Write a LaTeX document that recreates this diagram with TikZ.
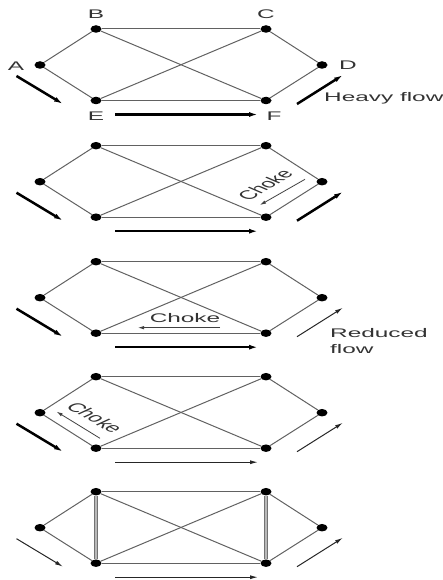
\documentclass[tikz,border=0pt]{standalone}
\usepackage{fontspec}
\setmainfont{Liberation Sans}
\usetikzlibrary{shapes.geometric, arrows.meta}

\tikzset{
  vertex/.style={ellipse, fill=black, draw=none, inner sep=0pt,
                 minimum width=11pt, minimum height=7.5pt},
  edge/.style={draw=black!62, line width=1pt},
  link/.style={draw=black!55, double=black!28, double distance=1.8pt, line width=0.7pt},
  heavy/.style={draw=black, line width=2.5pt, -{Latex[length=9pt,width=5pt]}},
  light/.style={draw=black!85, line width=1pt, -{Latex[length=8pt,width=4pt]}},
  chokearrow/.style={draw=black!75, line width=0.8pt, -{Latex[length=6pt,width=3.5pt]}},
  lbl/.style={text=black!80, font=\fontsize{12.5}{16}\selectfont, inner sep=0pt},
}
% letters drawn wide, as in the source figure
\newcommand{\wide}[1]{\scalebox{1.95}[1]{#1}}

\begin{document}
\begin{tikzpicture}[x=1pt, y=-1pt]
  \useasboundingbox (0,0) rectangle (442,580);

  % five copies of the network, one below the other
  \foreach \p/\o in {1/0, 2/116.7, 3/232.7, 4/347.7, 5/462.7} {
    \node[vertex] (A\p) at (40, 65+\o) {};
    \node[vertex] (B\p) at (96, 29+\o) {};
    \node[vertex] (C\p) at (266, 29+\o) {};
    \node[vertex] (D\p) at (322, 65+\o) {};
    \node[vertex] (E\p) at (96, 100.5+\o) {};
    \node[vertex] (F\p) at (266, 100.5+\o) {};
    \draw[edge] (A\p) -- (B\p);
    \draw[edge] (A\p) -- (E\p);
    \draw[edge] (B\p) -- (C\p);
    \draw[edge] (E\p) -- (F\p);
    \draw[edge] (C\p) -- (D\p);
    \draw[edge] (F\p) -- (D\p);
    \draw[edge] (B\p) -- (F\p);
    \draw[edge] (E\p) -- (C\p);
    % flow arrow ends
    \coordinate (inS\p) at (16.5, 76+\o);
    \coordinate (inT\p) at (63, 104+\o);
    \coordinate (midS\p) at (115, 114.5+\o);
    \coordinate (midT\p) at (258, 114.5+\o);
    \coordinate (outS\p) at (297, 104+\o);
    \coordinate (outT\p) at (343, 75+\o);
  }

  % extra vertical links in the last network
  \draw[link] (B5) -- (E5);
  \draw[link] (C5) -- (F5);

  % flows: heavy at first, thinning out panel by panel
  \draw[heavy] (inS1) -- (inT1);
  \draw[heavy] (midS1) -- (midT1);
  \draw[heavy] (outS1) -- (outT1);

  \draw[heavy] (inS2) -- (inT2);
  \draw[heavy] (midS2) -- (midT2);
  \draw[heavy] (outS2) -- (outT2);

  \draw[heavy] (inS3) -- (inT3);
  \draw[heavy] (midS3) -- (midT3);
  \draw[light] (outS3) -- (outT3);

  \draw[heavy] (inS4) -- (inT4);
  \draw[light] (midS4) -- (midT4);
  \draw[light] (outS4) -- (outT4);

  \draw[light] (inS5) -- (inT5);
  \draw[light] (midS5) -- (midT5);
  \draw[light] (outS5) -- (outT5);

  % node letters
  \node[lbl] (labA) at (16, 66) {\wide{A}};
  \node[lbl] (labB) at (96, 14) {\wide{B}};
  \node[lbl] (labC) at (266, 14) {\wide{C}};
  \node[lbl] (labD) at (348, 65.5) {\wide{D}};
  \node[lbl] (labE) at (96, 116) {\wide{E}};
  \node[lbl] (labF) at (274, 116) {\wide{F}};

  \node[lbl, anchor=west] (heavylbl) at (324, 98) {\wide{Heavy flow}};
  \node[lbl, anchor=west, align=left] (reducedlbl) at (330, 341)
    {\wide{Reduced}\\\wide{flow}};

  % chokes
  \coordinate (ch2S) at (305, 179.3);
  \coordinate (ch2T) at (260, 205);
  \draw[chokearrow] (ch2S) -- (ch2T);
  \node[lbl] (choke2) at (265, 185) {\wide{\rotatebox{50}{Choke}}};

  \coordinate (ch3S) at (220, 327.7);
  \coordinate (ch3T) at (138, 327.7);
  \draw[chokearrow] (ch3S) -- (ch3T);
  \node[lbl] (choke3) at (185, 318.3) {\wide{Choke}};

  \coordinate (ch4S) at (100, 438.3);
  \coordinate (ch4T) at (56.7, 411.7);
  \draw[chokearrow] (ch4S) -- (ch4T);
  \node[lbl] (choke4) at (95, 417.5) {\wide{\rotatebox{-48}{Choke}}};
\end{tikzpicture}
\end{document}
